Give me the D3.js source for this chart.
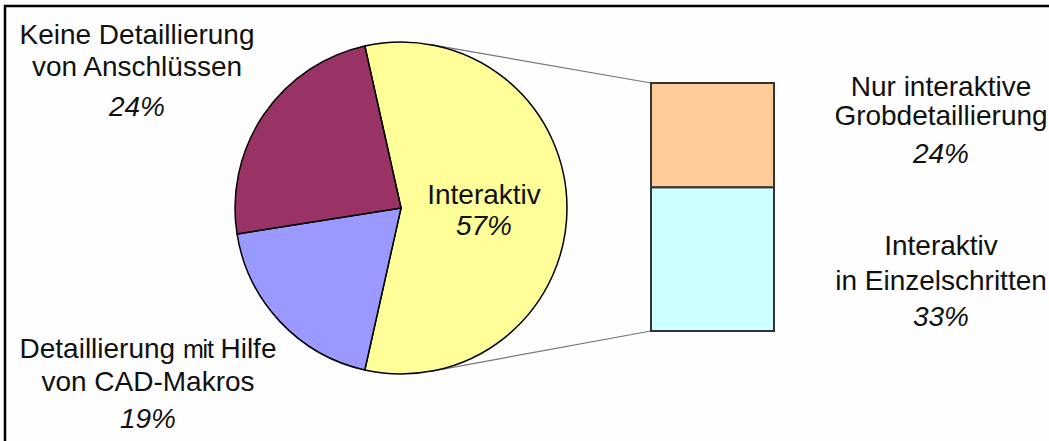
<!DOCTYPE html>
<html>
<head>
<meta charset="utf-8">
<script src="https://cdn.jsdelivr.net/npm/d3@7"></script>
<style>
  html, body { margin: 0; padding: 0; background: #fdfefd; }
  svg { display: block; font-family: "Liberation Sans", Arial, sans-serif; }
</style>
</head>
<body>
<svg id="chart" width="1049" height="441"></svg>
<script>
// pie slices, clockwise starting with the split-out slice
const pieNames = ["Interaktiv", "Detaillierung mit Hilfe von CAD-Makros", "Keine Detaillierung von Anschlüssen"];
const pieValues = [57, 19, 24];
const pieColors = ["#FFFF99", "#9999FF", "#993366"];

// bar breakdown of "Interaktiv", top to bottom
const barNames = ["Nur interaktive Grobdetaillierung", "Interaktiv in Einzelschritten"];
const barValues = [24, 33];
const barColors = ["#FFCC99", "#CCFFFF"];

const svg = d3.select("#chart");
const W = 1049, H = 441;

// chart frame (runs off the right/bottom edge like the original)
svg.append("rect")
  .attr("x", 5).attr("y", 6)
  .attr("width", W + 20).attr("height", H + 20)
  .attr("fill", "#fdfefd")
  .attr("stroke", "#000").attr("stroke-width", 2.5);

const cx = 401, cy = 208, r = 166;
const split = pieValues[0] / d3.sum(pieValues);
// excel centres the split slice on 3 o'clock
const a0 = Math.PI / 2 - split * Math.PI;

const pie = d3.pie().sort(null).value((d) => d)
  .startAngle(a0).endAngle(a0 + 2 * Math.PI);
const arcs = pie(pieValues);
const arc = d3.arc().innerRadius(0).outerRadius(r);

// bar geometry
const bx = 651, bw = 123;
const y = d3.scaleLinear().domain([0, d3.sum(barValues)]).range([83, 331]);

// connector lines: from bar corners, tangent to the pie
function tangent(px, py, upper) {
  const dx = px - cx, dy = py - cy;
  const d = Math.hypot(dx, dy);
  const base = Math.atan2(dy, dx);
  const off = Math.acos(r / d);
  const t = upper ? base - off : base + off;
  return [cx + r * Math.cos(t), cy + r * Math.sin(t)];
}
const yTop = y(0), yBot = y(d3.sum(barValues));
[[yTop, true], [yBot, false]].forEach(([py, up]) => {
  const [tx, ty] = tangent(bx, py, up);
  svg.append("line")
    .attr("x1", tx).attr("y1", ty).attr("x2", bx).attr("y2", py)
    .attr("stroke", "#777").attr("stroke-width", 1.2);
});

const pg = svg.append("g").attr("transform", `translate(${cx},${cy})`);
pg.selectAll("path")
  .data(arcs)
  .join("path")
  .attr("d", arc)
  .attr("fill", (d, i) => pieColors[i])
  .attr("stroke", "#000")
  .attr("stroke-width", 1.5)
  .attr("stroke-linejoin", "round");

// stacked bar
let acc = 0;
const stacks = barValues.map((v) => { const s = { y0: acc, y1: acc + v }; acc += v; return s; });
svg.append("g").selectAll("rect")
  .data(stacks)
  .join("rect")
  .attr("x", bx)
  .attr("y", (d) => y(d.y0))
  .attr("width", bw)
  .attr("height", (d) => y(d.y1) - y(d.y0))
  .attr("fill", (d, i) => barColors[i])
  .attr("stroke", "#333")
  .attr("stroke-width", 2);

// labels
const FS = 28;
function label(x, lines) {
  const t = svg.append("text")
    .attr("text-anchor", "middle")
    .attr("font-size", FS)
    .attr("fill", "#111");
  lines.forEach((ln) => {
    const ts = t.append("tspan").attr("x", x).attr("y", ln.y);
    if (ln.italic) ts.attr("font-style", "italic");
    if (ln.parts) {
      ln.parts.forEach((p) => {
        const s = ts.append("tspan").text(p.text);
        if (p.size) s.attr("font-size", p.size).attr("letter-spacing", p.ls || 0);
      });
    } else {
      ts.text(ln.text);
    }
  });
}
const pct = (v) => v + "%";

// Interaktiv inside the yellow slice
const c0 = arc.centroid(arcs[0]);
label(cx + c0[0], [
  { text: pieNames[0], y: cy + c0[1] - 4 },
  { text: pct(pieValues[0]), y: cy + c0[1] + 27, italic: true }
]);

label(137, [
  { text: "Keine Detaillierung", y: 44 },
  { text: "von Anschlüssen", y: 76 },
  { text: pct(pieValues[2]), y: 116, italic: true }
]);

// the original renders "mit" condensed
label(148, [
  { parts: [{ text: "Detaillierung " }, { text: "mit", size: 25, ls: -1.2 }, { text: " Hilfe" }], y: 358 },
  { text: "von CAD-Makros", y: 391 },
  { text: pct(pieValues[1]), y: 428, italic: true }
]);

label(941, [
  { text: "Nur interaktive", y: 96 },
  { text: "Grobdetaillierung", y: 125 },
  { text: pct(barValues[0]), y: 163, italic: true }
]);

label(941, [
  { text: "Interaktiv", y: 255 },
  { text: "in Einzelschritten", y: 290 },
  { text: pct(barValues[1]), y: 326, italic: true }
]);
</script>
</body>
</html>
